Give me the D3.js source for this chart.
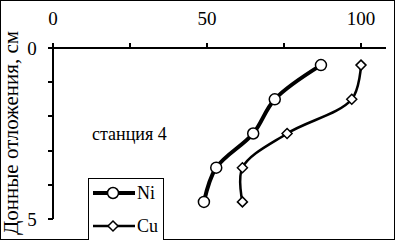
<!DOCTYPE html>
<html><head><meta charset="utf-8">
<script src="https://cdn.jsdelivr.net/npm/d3@7"></script>
<style>body{margin:0;background:#fff}svg{display:block}</style>
</head><body>
<script>
const depths = [0.5, 1.5, 2.5, 3.5, 4.5];
const niValues = [87, 72, 65, 53, 49];
const cuValues = [100, 97, 76, 61.5, 61.5];
const xTicks = [0, 50, 100];
const yTicks = [0, 5];
const seriesNames = ["Ni", "Cu"];

const FONT = "Liberation Serif";
const W = 395, H = 240;
const svg = d3.select("body").append("svg").attr("width", W).attr("height", H);
svg.append("rect").attr("x",0.5).attr("y",0.5).attr("width",W-1).attr("height",H-1).attr("fill","#fff").attr("stroke","#000");

const x = d3.scaleLinear().domain([0, 100]).range([53, 361]);
const y = d3.scaleLinear().domain([0, 5]).range([48, 219]);

// axes
const g = svg.append("g").attr("shape-rendering","crispEdges");
g.append("line").attr("x1", x(0)).attr("x2", x(108)).attr("y1", y(0)).attr("y2", y(0)).attr("stroke","#000").attr("stroke-width",2);
g.append("line").attr("x1", x(0)).attr("x2", x(0)).attr("y1", y(0)).attr("y2", y(5)).attr("stroke","#000").attr("stroke-width",2);
d3.range(0, 101, 25).forEach(v => {
  g.append("line").attr("x1", x(v)).attr("x2", x(v)).attr("y1", y(0)).attr("y2", y(0)-5).attr("stroke","#000").attr("stroke-width",2);
});
d3.range(0, 6, 1).forEach(v => {
  g.append("line").attr("x1", x(0)-5).attr("x2", x(0)).attr("y1", y(v)).attr("y2", y(v)).attr("stroke","#000").attr("stroke-width",2);
});
const txt = (sel) => sel.append("text").attr("font-family", FONT).attr("fill", "#000");
xTicks.forEach(v => txt(svg).attr("x", x(v)).attr("y", 25).attr("text-anchor","middle").attr("font-size",19).text(v));
yTicks.forEach(v => txt(svg).attr("x", 32).attr("y", y(v)+7).attr("text-anchor","middle").attr("font-size",19).text(v));

txt(svg).attr("transform","translate(18,133) rotate(-90)").attr("text-anchor","middle").attr("font-size",21).text("Донные отложения, см");
txt(svg).attr("x", 92).attr("y", 140).attr("font-size",18).text("станция 4");

const line = d3.line().curve(d3.curveCatmullRom.alpha(0.5)).x(d => x(d[0])).y(d => y(d[1]));
const ni = niValues.map((v,i) => [v, depths[i]]);
const cu = cuValues.map((v,i) => [v, depths[i]]);
svg.append("path").attr("d", line(ni)).attr("fill","none").attr("stroke","#000").attr("stroke-width",4);
svg.append("path").attr("d", line(cu)).attr("fill","none").attr("stroke","#000").attr("stroke-width",2.5);

const circle = (sel, cx, cy) => sel.append("circle").attr("cx",cx).attr("cy",cy).attr("r",5.5).attr("fill","#fff").attr("stroke","#000").attr("stroke-width",1.5);
const diamond = (sel, cx, cy) => sel.append("path").attr("d", `M${cx},${cy-5}L${cx+5},${cy}L${cx},${cy+5}L${cx-5},${cy}Z`).attr("fill","#fff").attr("stroke","#000").attr("stroke-width",1.5);
ni.forEach(d => circle(svg, x(d[0]), y(d[1])));
cu.forEach(d => diamond(svg, x(d[0]), y(d[1])));

// legend
const lg = svg.append("g");
lg.append("rect").attr("x",88.5).attr("y",178.5).attr("width",75).attr("height",62).attr("fill","#fff").attr("stroke","#000");
lg.append("line").attr("x1",93).attr("x2",135).attr("y1",193).attr("y2",193).attr("stroke","#000").attr("stroke-width",4);
circle(lg, 113, 193);
txt(lg).attr("x",137).attr("y",199).attr("font-size",18).text(seriesNames[0]);
lg.append("line").attr("x1",93).attr("x2",135).attr("y1",226).attr("y2",226).attr("stroke","#000").attr("stroke-width",2.5);
diamond(lg, 113, 226);
txt(lg).attr("x",137).attr("y",232).attr("font-size",18).text(seriesNames[1]);
</script>
</body></html>
